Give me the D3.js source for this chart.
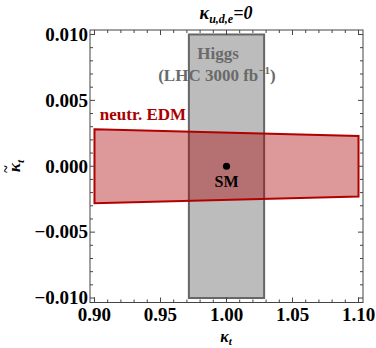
<!DOCTYPE html>
<html><head><meta charset="utf-8">
<script src="https://cdn.jsdelivr.net/npm/d3@7"></script>
<style>html,body{margin:0;padding:0;background:#fff;}svg{display:block;}</style>
</head><body>
<script>
// ---- data ----
const xTicks = [0.90, 0.95, 1.00, 1.05, 1.10];
const xTickLabels = ["0.90", "0.95", "1.00", "1.05", "1.10"];
const yTicks = [-0.010, -0.005, 0.000, 0.005, 0.010];
const yTickLabels = ["\u22120.010", "\u22120.005", "0.000", "0.005", "0.010"];
const higgsKappaT = [0.9715, 1.0285];
const higgsKappaTilde = [-0.010, 0.010];
const edmKappaT = [0.90, 1.10, 1.10, 0.90];
const edmKappaTilde = [0.0028, 0.0023, -0.0023, -0.0028];
const smPoint = [1.00, 0.000];

const W = 376, H = 348;
const L = 90, R = 363, T = 30, B = 302.5;
const FONT = "Liberation Serif";
const svg = d3.select("body").append("svg").attr("width", W).attr("height", H);
const x = d3.scaleLinear().domain([0.8966, 1.1034]).range([L, R]);
const y = d3.scaleLinear().domain([-0.01034, 0.01034]).range([B, T]);

function txt(parent) {
  return parent.append("text").attr("font-family", FONT).attr("font-weight", "bold");
}

// Higgs box
svg.append("rect")
  .attr("x", x(higgsKappaT[0])).attr("y", y(higgsKappaTilde[1]))
  .attr("width", x(higgsKappaT[1]) - x(higgsKappaT[0]))
  .attr("height", y(higgsKappaTilde[0]) - y(higgsKappaTilde[1]))
  .attr("fill", "#bcbcbc").attr("stroke", "#666").attr("stroke-width", 2);

// EDM band
const pts = edmKappaT.map((k, i) => [x(k), y(edmKappaTilde[i])]);
svg.append("polygon").attr("points", pts.map(p => p.join(",")).join(" "))
  .attr("fill", "rgb(170,0,0)").attr("fill-opacity", 0.4)
  .attr("stroke", "#b00000").attr("stroke-width", 2).attr("stroke-linejoin", "miter");

// SM point
svg.append("circle").attr("cx", x(smPoint[0])).attr("cy", y(smPoint[1])).attr("r", 3.6).attr("fill", "#000");
txt(svg).attr("x", x(smPoint[0])).attr("y", y(smPoint[1]) + 21)
  .attr("text-anchor", "middle").attr("font-size", 16).attr("fill", "#000").text("SM");

// Higgs labels
txt(svg).attr("x", 218).attr("y", 59).attr("text-anchor", "middle")
  .attr("font-size", 17).attr("fill", "#6a6a6a").text("Higgs");
const lhc = txt(svg).attr("x", 217).attr("y", 81).attr("text-anchor", "middle")
  .attr("font-size", 17).attr("fill", "#6a6a6a");
lhc.append("tspan").text("(LHC 3000 fb");
lhc.append("tspan").attr("dy", -7).attr("font-size", 11).text("\u22121");
lhc.append("tspan").attr("dy", 7).text(")");

// EDM label
txt(svg).attr("x", 143).attr("y", 120).attr("text-anchor", "middle")
  .attr("font-size", 17).attr("fill", "#aa0000").text("neutr. EDM");

// frame
svg.append("rect").attr("x", L).attr("y", T).attr("width", R - L).attr("height", B - T)
  .attr("fill", "none").attr("stroke", "#444").attr("stroke-width", 1);

// ticks
const xMinor = d3.range(0.90, 1.1001, 0.01).map(v => +v.toFixed(3));
const yMinor = d3.range(-0.010, 0.01001, 0.001).map(v => +v.toFixed(4));
const isMajor = (v, arr) => arr.some(t => Math.abs(t - v) < 1e-9);
const tk = svg.append("g").attr("stroke", "#444").attr("stroke-width", 1);
xMinor.forEach(v => {
  const len = isMajor(v, xTicks) ? 5 : 3;
  tk.append("line").attr("x1", x(v)).attr("x2", x(v)).attr("y1", B).attr("y2", B - len);
  tk.append("line").attr("x1", x(v)).attr("x2", x(v)).attr("y1", T).attr("y2", T + len);
});
yMinor.forEach(v => {
  const len = isMajor(v, yTicks) ? 5 : 3;
  tk.append("line").attr("y1", y(v)).attr("y2", y(v)).attr("x1", L).attr("x2", L + len);
  tk.append("line").attr("y1", y(v)).attr("y2", y(v)).attr("x1", R).attr("x2", R - len);
});

// tick labels
xTicks.forEach((v, i) => {
  txt(svg).attr("x", x(v)).attr("y", B + 18).attr("text-anchor", "middle")
    .attr("font-size", 19).attr("fill", "#000").text(xTickLabels[i]);
});
yTicks.forEach((v, i) => {
  txt(svg).attr("x", L - 2).attr("y", y(v)).attr("dy", "0.33em").attr("text-anchor", "end")
    .attr("font-size", 19).attr("fill", "#000").text(yTickLabels[i]);
});

// axis labels
const xl = txt(svg).attr("x", 226).attr("y", 342).attr("text-anchor", "middle")
  .attr("font-style", "italic").attr("font-size", 16).attr("fill", "#000");
xl.append("tspan").text("\u03ba");
xl.append("tspan").attr("dy", 3).attr("font-size", 11).text("t");

const yg = svg.append("g").attr("transform", "translate(20,166) rotate(-90)");
const yl = txt(yg).attr("text-anchor", "middle")
  .attr("font-style", "italic").attr("font-size", 17).attr("fill", "#000");
yl.append("tspan").text("\u03ba");
yl.append("tspan").attr("dy", 4).attr("font-size", 11).text("t");
txt(yg).attr("x", -3).attr("y", -9).attr("text-anchor", "middle")
  .attr("font-size", 14).attr("fill", "#000").text("~");

// title
const tt = txt(svg).attr("x", 226).attr("y", 19).attr("text-anchor", "middle")
  .attr("font-style", "italic").attr("font-size", 18).attr("fill", "#000");
tt.append("tspan").text("\u03ba");
tt.append("tspan").attr("dy", 4).attr("font-size", 12).text("u,d,e");
tt.append("tspan").attr("dy", -4).text("=0");
</script>
</body></html>
